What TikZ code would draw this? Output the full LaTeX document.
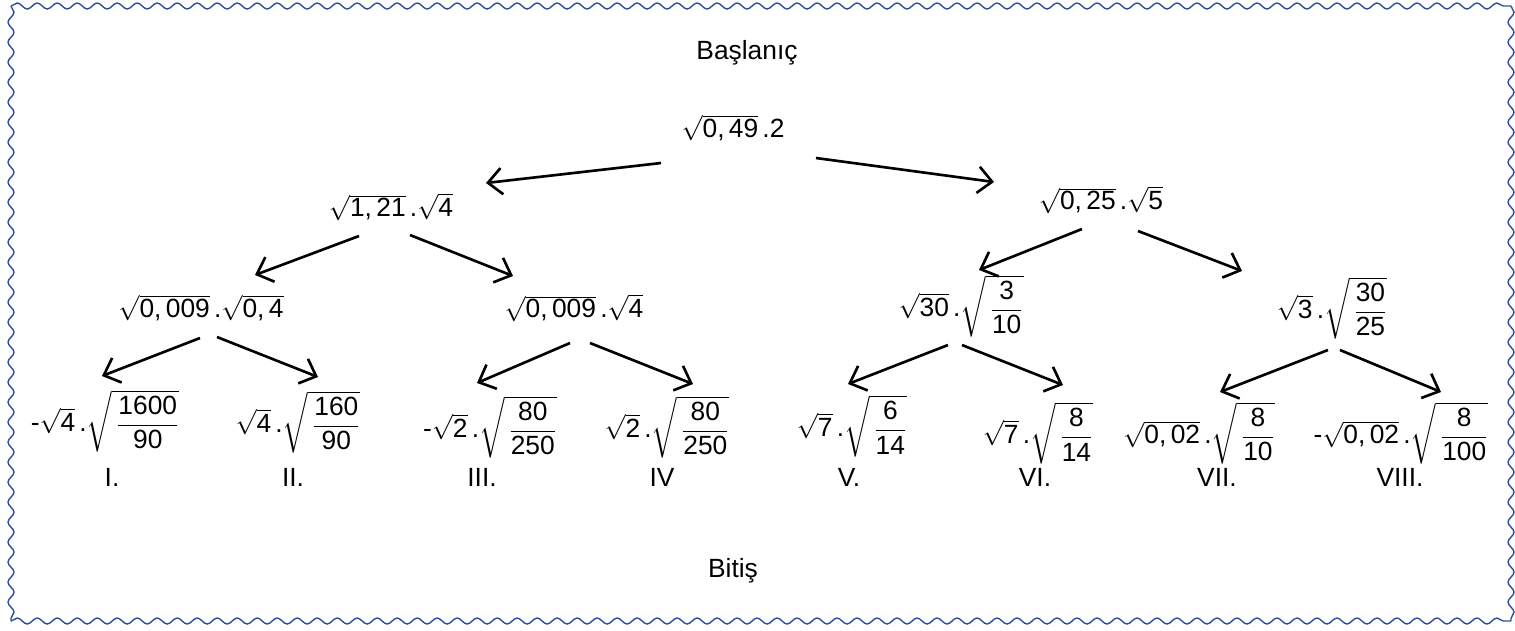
\documentclass[tikz,border=0pt]{standalone}
\usepackage{amsmath}
\usepackage{fontspec}
\setmainfont{Liberation Sans}
\usetikzlibrary{arrows.meta,decorations.pathmorphing}
\tikzset{>={Straight Barb[length=8pt,width=15pt]}}
\definecolor{frameblue}{RGB}{48,78,160}

\newcommand{\sq}[1]{\sqrt{\text{#1}}}
\newcommand{\sqf}[2]{\sqrt{\,\dfrac{\text{#1}}{\text{#2}}}}
\newcommand{\mdot}{\,\text{.}}

\begin{document}
\begin{tikzpicture}[x=0.02cm,y=-0.02cm,
  expr/.style={inner sep=0pt,font=\fontsize{15}{18}\selectfont},
  word/.style={inner sep=0pt,font=\fontsize{15}{18}\selectfont},
  wave/.style={frameblue,line width=0.8pt,decorate,
    decoration={snake,segment length=0.4cm,amplitude=0.06cm}},
  arr/.style={->,line width=1.5pt}]
\useasboundingbox (0,0) rectangle (1515,630);

% frame
\coordinate (TL) at (11,6);
\coordinate (TR) at (1511,6);
\coordinate (BL) at (11,621);
\coordinate (BR) at (1511,621);
\draw[wave] (TL) -- (TR);
\draw[wave] (TL) -- (BL);
\draw[wave] (BL) -- (BR);
\draw[wave] (TR) -- (BR);

\node[word] (start) at (747,53) {Başlanıç};
\node[word] (finish) at (733,571) {Bitiş};

% first levels
\node[expr] (root) at (733,128) {$\sq{0,\,49}\mdot\text{2}$};
\node[expr] (l1) at (391,207) {$\sq{1,\,21}\mdot\sq{4}$};
\node[expr] (r1) at (1101,200) {$\sq{0,\,25}\mdot\sq{5}$};
\node[expr] (ll) at (201,308) {$\sq{0,\,009}\mdot\sq{0,\,4}$};
\node[expr] (lr) at (574,308) {$\sq{0,\,009}\mdot\sq{4}$};
\node[expr] (rl) at (961,306) {$\sq{30}\mdot\sqf{3}{10}$};
\node[expr] (rr) at (1332,308) {$\sq{3}\mdot\sqf{30}{25}$};

% leaves
\node[expr] (i) at (105,421) {$\text{-}\sq{4}\mdot\sqf{1600}{90}$};
\node[expr] (ii) at (298,422) {$\sq{4}\mdot\sqf{160}{90}$};
\node[expr] (iii) at (490,427) {$\text{-}\sq{2}\mdot\sqf{80}{250}$};
\node[expr] (iv) at (667,427) {$\sq{2}\mdot\sqf{80}{250}$};
\node[expr] (v) at (852,426) {$\sq{7}\mdot\sqf{6}{14}$};
\node[expr] (vi) at (1038,433) {$\sq{7}\mdot\sqf{8}{14}$};
\node[expr] (vii) at (1199,433) {$\sq{0,\,02}\mdot\sqf{8}{10}$};
\node[expr] (viii) at (1401,433) {$\text{-}\sq{0,\,02}\mdot\sqf{8}{100}$};

\foreach \name/\x/\txt in {nI/112/I., nII/293/II., nIII/482/III., nIV/662/IV,
  nV/849/V., nVI/1035/VI., nVII/1217/VII., nVIII/1400/VIII.}
  \node[word] (\name) at (\x,477) {\txt};

% arrows
\foreach \a/\sa/\b/\sb in {root/{-72,35}/l1/{95,-24}, root/{83,30}/r1/{-107,-18},
  l1/{-32,29}/ll/{54,-33}, l1/{19,28}/lr/{-61,-32},
  r1/{-19,29}/rl/{18,-36}, r1/{37,31}/rr/{-90,-37},
  ll/{-1,30}/i/{-3,-45}, ll/{16,29}/ii/{20,-45},
  lr/{-4,35}/iii/{-13,-44}, lr/{16,35}/iv/{26,-43},
  rl/{-13,39}/v/{-4,-42}, rl/{1,39}/vi/{25,-48},
  rr/{-4,42}/vii/{21,-41}, rr/{8,42}/viii/{40,-41}}
  \draw[arr] ([shift={(\sa)}]\a.center) -- ([shift={(\sb)}]\b.center);

\end{tikzpicture}
\end{document}
